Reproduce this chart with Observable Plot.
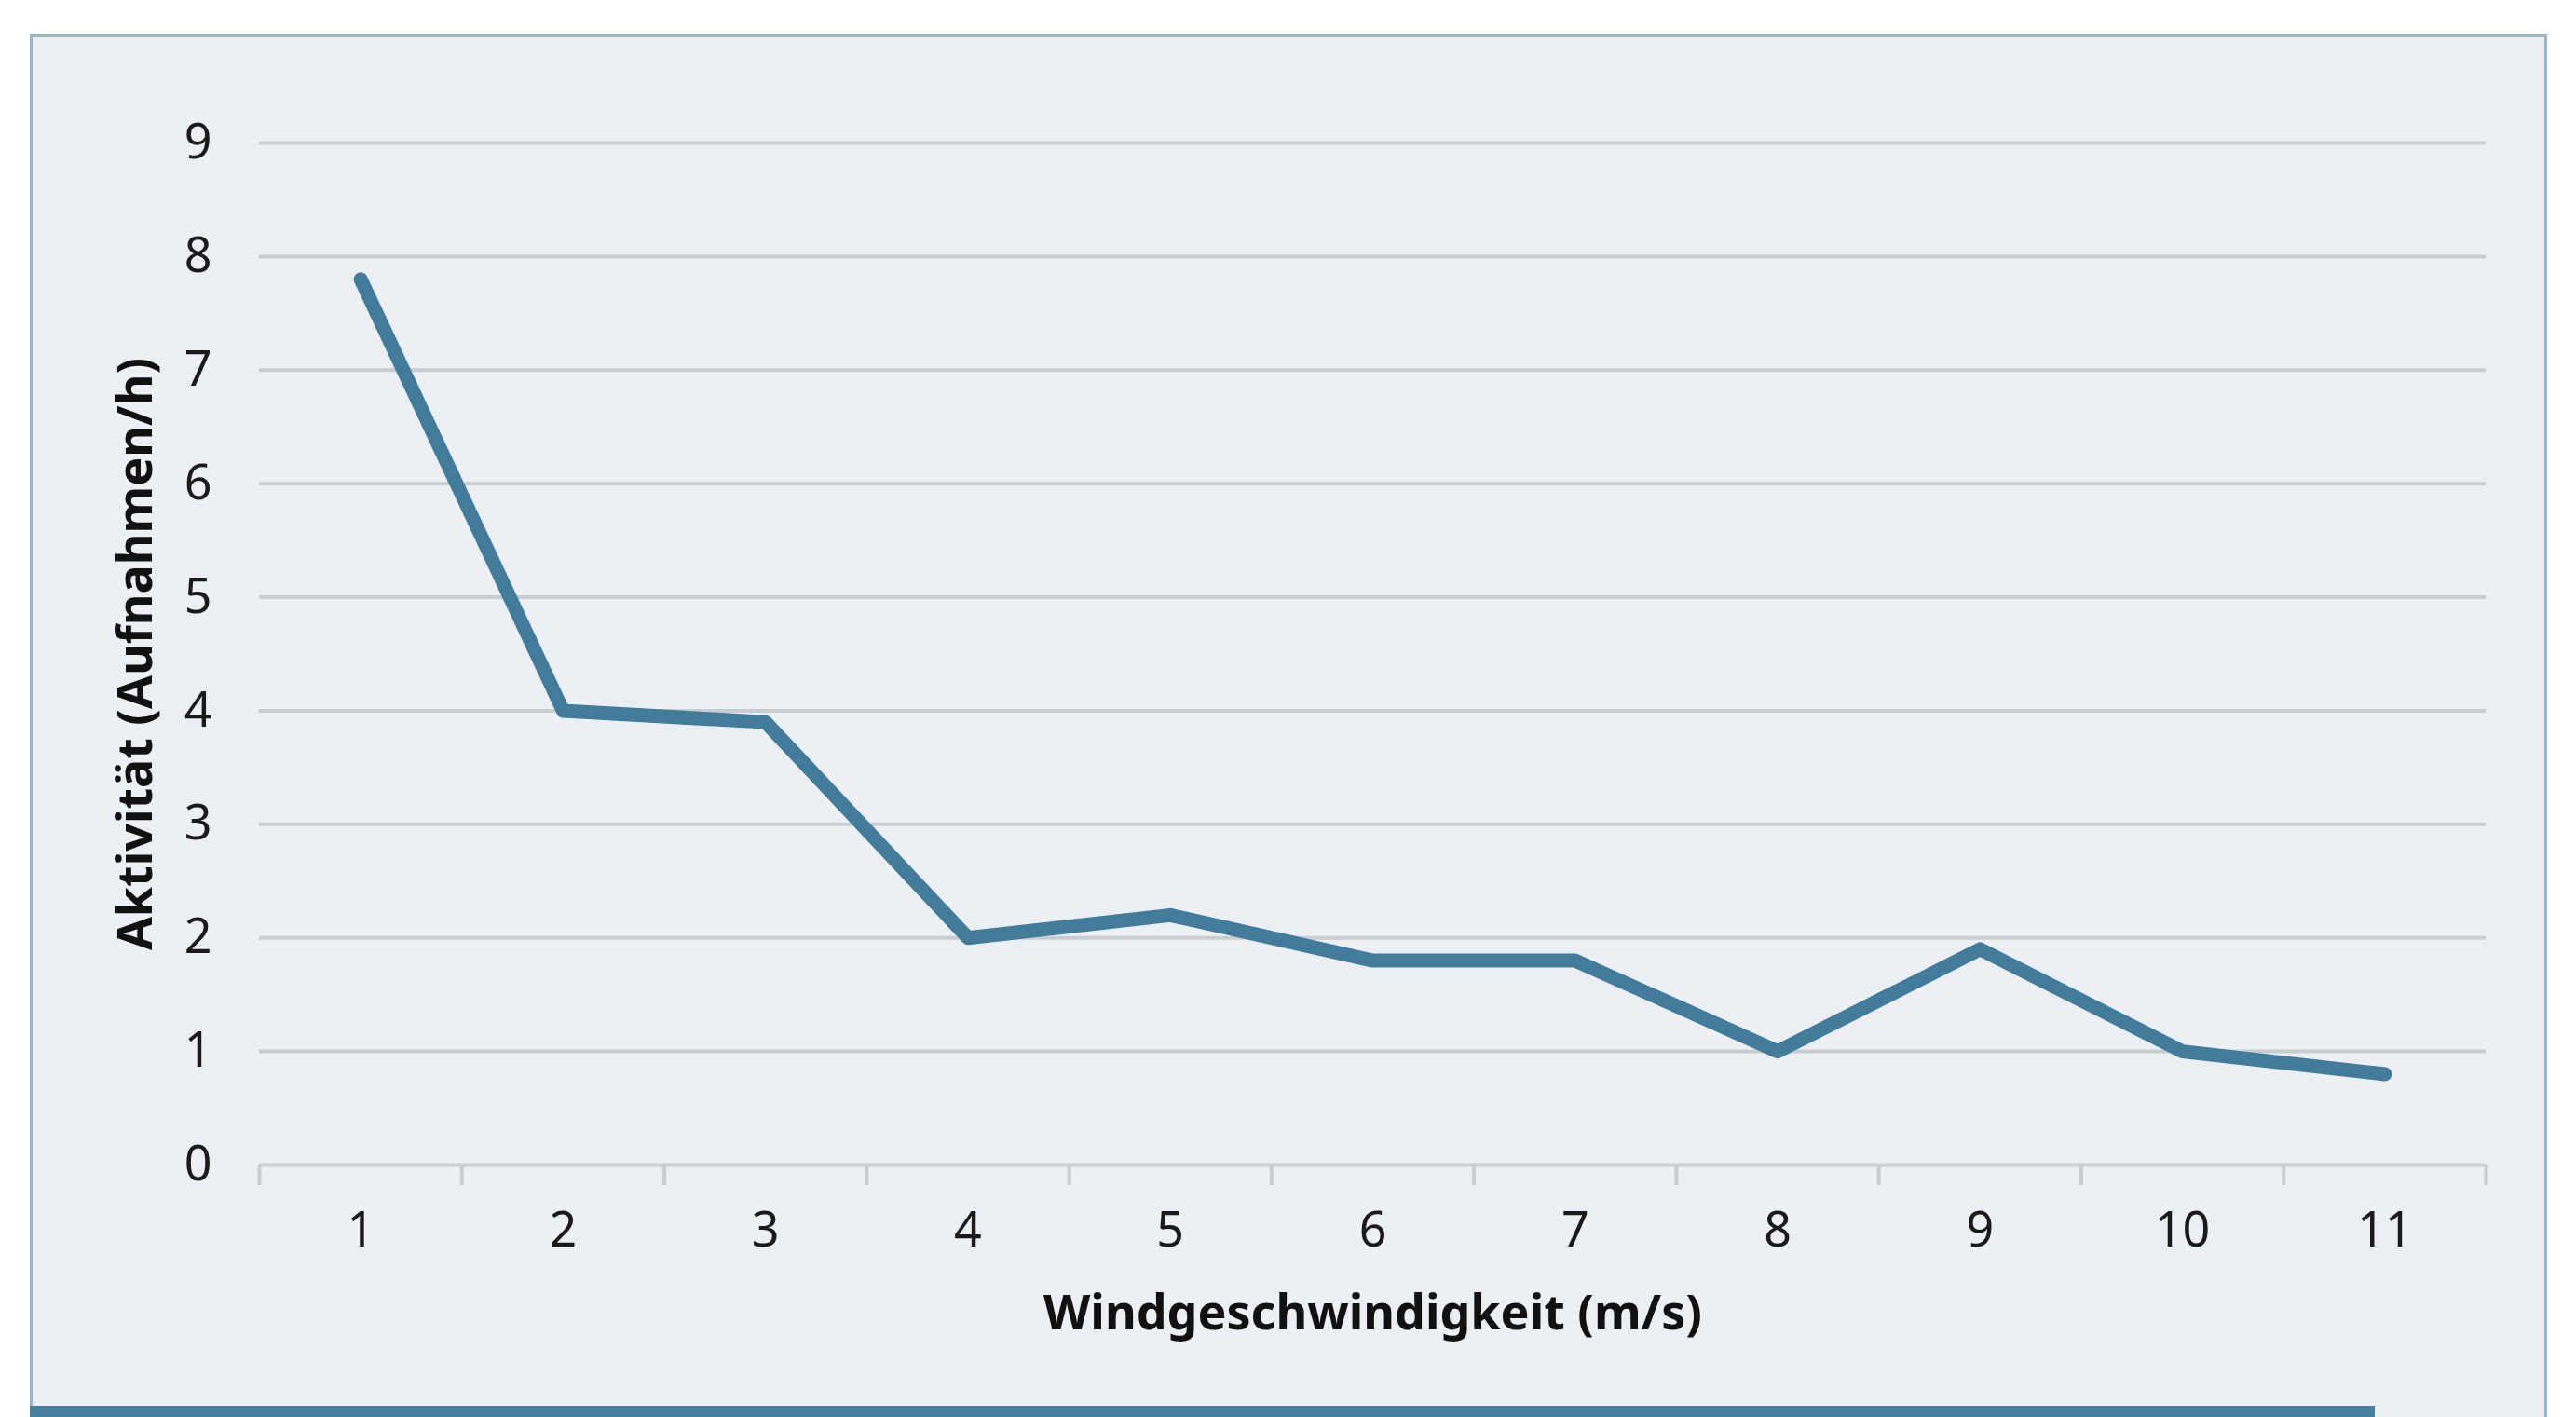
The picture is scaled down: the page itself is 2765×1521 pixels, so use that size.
<!DOCTYPE html>
<html>
<head>
<meta charset="utf-8">
<script src="https://cdn.jsdelivr.net/npm/d3@7"></script>
<script src="https://cdn.jsdelivr.net/npm/@observablehq/plot@0.6"></script>
<style>
  html, body { margin: 0; padding: 0; background: #ffffff; }
  body { width: 2765px; height: 1521px; position: relative; overflow: hidden; }
  #panel { position: absolute; left: 32px; top: 37px; width: 2702px; height: 1500px;
           background: #ecf0f5; border: 3px solid #9bb5c8; box-sizing: border-box; }
  #bar { position: absolute; left: 32px; top: 1509px; width: 2517px; height: 12px; background: #4682a0; }
  #chart { position: absolute; left: 0; top: 0; }
</style>
</head>
<body>
<div id="panel"></div>
<div id="bar"></div>
<div id="chart"></div>
<script>
const windSpeed = [1, 2, 3, 4, 5, 6, 7, 8, 9, 10, 11];
const activity  = [7.8, 4.0, 3.9, 2.0, 2.2, 1.8, 1.8, 1.0, 1.9, 1.0, 0.8];
const yTicks = [0, 1, 2, 3, 4, 5, 6, 7, 8, 9];
const yTickLabels = ["0","1","2","3","4","5","6","7","8","9"];
const xTickLabels = ["1","2","3","4","5","6","7","8","9","10","11"];
const xTitle = "Windgeschwindigkeit (m/s)";
const yTitle = "Aktivität (Aufnahmen/h)";

const data = windSpeed.map((x, i) => ({x, y: activity[i]}));
const bandEdges = d3.range(0.5, windSpeed.length + 1, 1);

const titleFont = "'Liberation Sans Narrow', 'Noto Sans', sans-serif";

const chart = Plot.plot({
  width: 2765,
  height: 1521,
  marginLeft: 278,
  marginRight: 97,
  marginTop: 153,
  marginBottom: 271,
  style: {background: "transparent", fontFamily: "'Noto Sans', sans-serif", fontSize: "52px", color: "#1a1a1a", overflow: "visible"},
  x: {type: "linear", domain: [0.5, windSpeed.length + 0.5]},
  y: {domain: [0, 9]},
  marks: [
    Plot.gridY(yTicks, {stroke: "#c8cdd1", strokeWidth: 4, strokeOpacity: 1}),
    Plot.axisY(yTicks, {tickSize: 0, tickPadding: 51, fontSize: 52, tickFormat: (d) => yTickLabels[yTicks.indexOf(d)], label: null}),
    Plot.axisX(bandEdges, {tickSize: 22, stroke: "#c8cdd1", strokeWidth: 4, tickFormat: () => "", label: null}),
    Plot.axisX(windSpeed, {tickSize: 0, tickPadding: 51, fontSize: 52, tickFormat: (d) => xTickLabels[windSpeed.indexOf(d)], label: null}),
    Plot.line(data, {x: "x", y: "y", stroke: "#427c9a", strokeWidth: 15, strokeLinecap: "round", strokeLinejoin: "round"}),
    Plot.text([xTitle], {frameAnchor: "bottom", lineAnchor: "middle", dy: 160, fontWeight: "bold", fontSize: 52, fontFamily: titleFont, fill: "#111"}),
    Plot.text([yTitle], {frameAnchor: "left", textAnchor: "middle", dx: -132, rotate: -90, fontWeight: "bold", fontSize: 52, fontFamily: titleFont, fill: "#111"})
  ]
});
document.getElementById("chart").appendChild(chart);
</script>
</body>
</html>
